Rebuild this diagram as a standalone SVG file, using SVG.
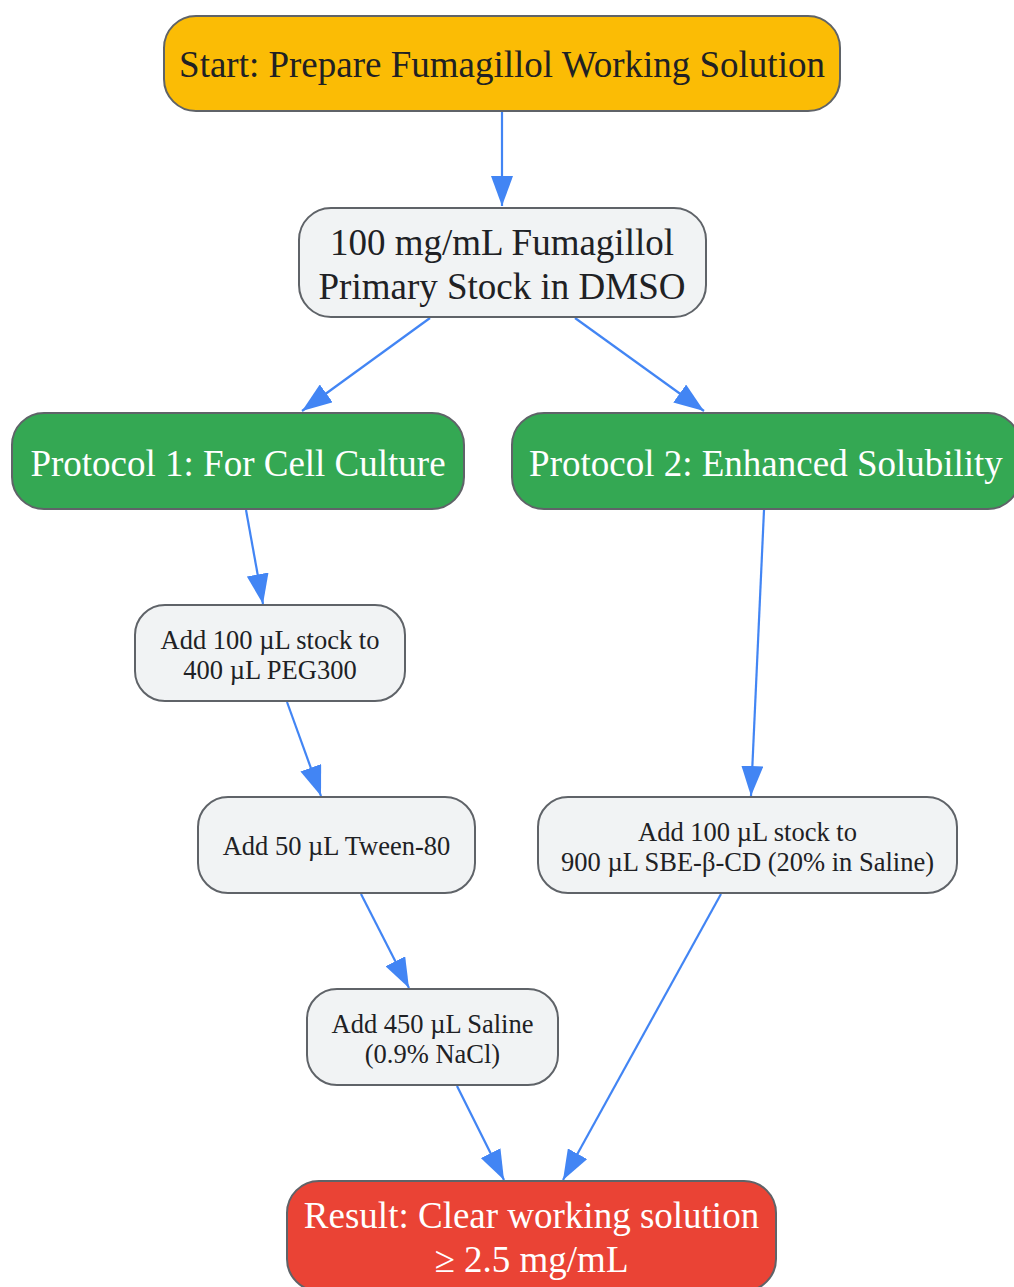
<svg xmlns="http://www.w3.org/2000/svg" width="1014" height="1287" viewBox="0 0 1014 1287">
<style>
.n rect{stroke:#5f6368;stroke-width:2}
.g rect{fill:#f1f3f4}
text{font-family:"Liberation Serif","Times New Roman",serif;text-anchor:middle;dominant-baseline:central}
.big{font-size:37px}
.sm{font-size:26.5px}
.dk{fill:#202124}
.wt{fill:#ffffff}
.e{stroke:#4285f4;stroke-width:2.2;fill:none;marker-end:url(#ah)}
</style>
<defs>
<marker id="ah" viewBox="0 0 30 22" refX="30" refY="11" markerWidth="30" markerHeight="22" orient="auto" markerUnits="userSpaceOnUse">
<path d="M0,0 L30,11 L0,22 Z" fill="#4285f4"/>
</marker>
</defs>
<g id="edges">
<line class="e" x1="502" y1="111" x2="502" y2="206"/>
<line class="e" x1="430" y1="318" x2="302" y2="411"/>
<line class="e" x1="575" y1="318" x2="704" y2="411"/>
<line class="e" x1="246" y1="510" x2="263" y2="604"/>
<line class="e" x1="764" y1="510" x2="751" y2="796"/>
<line class="e" x1="287" y1="702" x2="321" y2="796"/>
<line class="e" x1="361" y1="894" x2="409" y2="988"/>
<line class="e" x1="457" y1="1086" x2="504" y2="1180"/>
<line class="e" x1="721" y1="894" x2="563" y2="1180"/>
</g>
<g id="start" class="n">
<rect x="164" y="16" width="676" height="95" rx="32" fill="#fbbc05"/>
<text class="big dk" x="502" y="64">Start: Prepare Fumagillol Working Solution</text>
</g>
<g id="stock" class="n g">
<rect x="299" y="208" width="407" height="109" rx="32"/>
<text class="big dk" x="502" y="242">100 mg/mL Fumagillol</text>
<text class="big dk" x="502" y="286">Primary Stock in DMSO</text>
</g>
<g id="protocol1" class="n">
<rect x="12" y="413" width="452" height="96" rx="32" fill="#34a853"/>
<text class="big wt" x="238" y="463">Protocol 1: For Cell Culture</text>
</g>
<g id="protocol2" class="n">
<rect x="512" y="413" width="508" height="96" rx="32" fill="#34a853"/>
<text class="big wt" x="766" y="463">Protocol 2: Enhanced Solubility</text>
</g>
<g id="peg" class="n g">
<rect x="135" y="605" width="270" height="96" rx="30"/>
<text class="sm dk" x="270" y="640">Add 100 µL stock to</text>
<text class="sm dk" x="270" y="670">400 µL PEG300</text>
</g>
<g id="tween" class="n g">
<rect x="198" y="797" width="277" height="96" rx="30"/>
<text class="sm dk" x="336.5" y="846">Add 50 µL Tween-80</text>
</g>
<g id="sbe" class="n g">
<rect x="538" y="797" width="419" height="96" rx="30"/>
<text class="sm dk" x="747.5" y="832">Add 100 µL stock to</text>
<text class="sm dk" x="747.5" y="862">900 µL SBE-β-CD (20% in Saline)</text>
</g>
<g id="saline" class="n g">
<rect x="307" y="989" width="251" height="96" rx="30"/>
<text class="sm dk" x="432.5" y="1024">Add 450 µL Saline</text>
<text class="sm dk" x="432.5" y="1054">(0.9% NaCl)</text>
</g>
<g id="result" class="n">
<rect x="287" y="1181" width="489" height="110" rx="32" fill="#ea4335"/>
<text class="big wt" x="531.5" y="1215">Result: Clear working solution</text>
<text class="big wt" x="531.5" y="1259">≥ 2.5 mg/mL</text>
</g>
</svg>
